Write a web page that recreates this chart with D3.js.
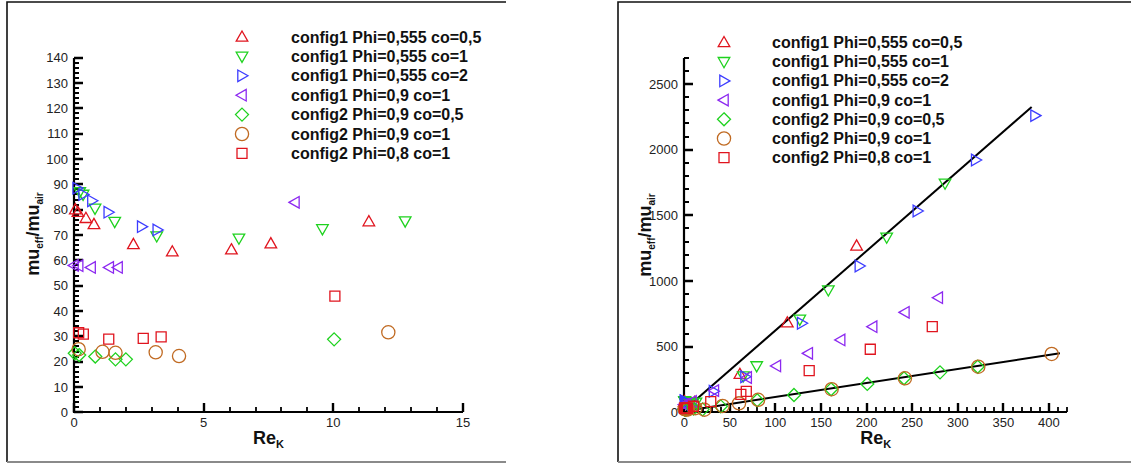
<!DOCTYPE html>
<html><head><meta charset="utf-8">
<script src="https://cdn.jsdelivr.net/npm/d3@7"></script>
<style>
html,body{margin:0;padding:0;background:#fff;}
svg{display:block;font-family:"Liberation Sans",Arial,Helvetica,sans-serif;}
</style></head>
<body>
<svg id="chart" width="1131" height="464"></svg>
<script>
// ---------- data ----------
const seriesNames = [
  "config1 Phi=0,555 co=0,5",
  "config1 Phi=0,555 co=1",
  "config1 Phi=0,555 co=2",
  "config1 Phi=0,9 co=1",
  "config2 Phi=0,9 co=0,5",
  "config2 Phi=0,9 co=1",
  "config2 Phi=0,8 co=1"
];
const seriesSymbols = ["triUp","triDown","triRight","triLeft","diamond","circle","square"];
const seriesColors = ["#e0141e","#1ed21e","#3c3cff","#8c28f0","#1ed21e","#c06a22","#e0141e"];

const s1 = [[0.05,80],[0.15,79],[0.46,76.6],[0.77,74.2],[2.29,66.3],[3.79,63.4],[6.07,64.2],[7.59,66.6],[11.37,75.3],[61,290],[113,682],[189,1267]];
const s2 = [[0.22,87],[0.35,86],[0.81,80.5],[1.57,75.3],[3.19,69.6],[6.36,68.7],[9.58,72.4],[12.77,75.5],[64.7,276],[79.4,353],[126.7,708],[158,931],[222,1333],[286,1744]];
const s3 = [[0.12,88.5],[0.35,86],[0.69,83.5],[1.32,79],[2.61,73.3],[3.21,72],[32,160],[66.6,271],[128.7,678],[192,1114],[255.6,1533],[319.6,1921],[384.7,2259]];
const s4 = [[0,58],[0.18,57.9],[0.66,57.2],[1.36,57.2],[1.7,57.2],[8.52,82.9],[33,165],[69,265],[101,353],[136,449],[171.5,551],[206.6,652],[242,761],[278.6,873]];
const s5 = [[0.03,23.3],[0.2,22.6],[0.82,22],[1.6,20.9],[2.0,20.9],[10.03,28.8],[20,22],[40,45],[80,92],[120.3,132],[161,175],[200.7,216],[241,259],[280.5,304],[321.8,347]];
const s6 = [[0.18,24.9],[1.1,23.9],[1.6,23.5],[3.15,23.7],[4.05,22.2],[12.12,31.6],[22,20],[42,48],[60,68],[81,95],[161.6,176],[242,259],[322.5,347],[403,444]];
const s7 = [[0.18,31.4],[0.36,30.9],[1.34,28.9],[2.67,29.2],[3.36,29.8],[10.06,45.9],[29,81],[62,137],[68,160],[137,317],[204,480],[272,652]];
const allSeries = [s1,s2,s3,s4,s5,s6,s7];

const fitLine1 = [[2,30],[381,2325]];
const fitLine2 = [[2,12],[412,449]];

const leftXTicks = [0,5,10,15];
const leftYTicks = [0,10,20,30,40,50,60,70,80,90,100,110,120,130,140];
const rightXTicks = [0,50,100,150,200,250,300,350,400];
const rightYTicks = [0,500,1000,1500,2000,2500];

// ---------- helpers ----------
const svg = d3.select("#chart");

function symbolPath(type){
  switch(type){
    case "triUp": return "M0,-6L5.8,4.2L-5.8,4.2Z";
    case "triDown": return "M0,6L5.8,-4.2L-5.8,-4.2Z";
    case "triRight": return "M6,0L-4.2,5.8L-4.2,-5.8Z";
    case "triLeft": return "M-6,0L4.2,5.8L4.2,-5.8Z";
    case "diamond": return "M0,-6.5L6.5,0L0,6.5L-6.5,0Z";
    case "square": return "M-5,-5L5,-5L5,5L-5,5Z";
    case "circle": return "M6.6,0A6.6,6.6 0 1,1 -6.6,0A6.6,6.6 0 1,1 6.6,0Z";
  }
}

function drawPanel(cfg){
  const g = svg.append("g");
  // frame
  g.append("path").attr("d",`M${cfg.frame[2]},${cfg.frame[1]}H${cfg.frame[0]}V${cfg.frame[3]}`)
    .attr("fill","none").attr("stroke","#111").attr("stroke-width",1.6);
  g.append("path").attr("d",`M${cfg.frame[0]},${cfg.frame[3]}H${cfg.frame[2]}`)
    .attr("fill","none").attr("stroke","#8a8a8a").attr("stroke-width",2);

  const x = d3.scaleLinear().domain(cfg.xDomain).range(cfg.xRange);
  const y = d3.scaleLinear().domain(cfg.yDomain).range(cfg.yRange);
  const y0 = Math.round(cfg.yRange[0]), x0 = Math.round(cfg.xRange[0]);

  // ticks (inward), positions from the scales
  const xMinor = d3.range(cfg.xDomain[0], cfg.xDomain[1]+1e-9, cfg.xMinorStep);
  const yMinor = d3.range(cfg.yDomain[0], cfg.yDomain[1]+1e-9, cfg.yMinorStep);
  const r = v => Math.round(v);
  const minorD = xMinor.map(v=>`M${r(x(v))},${y0}V${y0-5}`).join("") +
                 yMinor.map(v=>`M${x0},${r(y(v))}H${x0+5}`).join("");
  const majorD = cfg.xTicks.map(v=>`M${r(x(v))},${y0}V${y0-9}`).join("") +
                 cfg.yTicks.map(v=>`M${x0},${r(y(v))}H${x0+9}`).join("");
  g.append("path").attr("class","minor-ticks").attr("d",minorD)
    .attr("fill","none").attr("stroke","#000").attr("stroke-width",1.8);
  g.append("path").attr("class","major-ticks").attr("d",majorD)
    .attr("fill","none").attr("stroke","#000").attr("stroke-width",2.4);
  // axis lines
  g.append("path").attr("d",`M${r(cfg.xRange[1])},${y0}H${x0}V${r(cfg.yRange[1])}`)
    .attr("fill","none").attr("stroke","#000").attr("stroke-width",2.2);

  // tick labels
  const fmt = d3.format("d");
  g.selectAll("text.xl").data(cfg.xTicks).join("text").attr("class","xl")
    .attr("x",d=>x(d)).attr("y",y0+15).attr("text-anchor","middle")
    .style("font-size","13px").attr("fill","#222").text(fmt);
  g.selectAll("text.yl").data(cfg.yTicks).join("text").attr("class","yl")
    .attr("x",x0-6).attr("y",d=>y(d)+4.6).attr("text-anchor","end")
    .style("font-size","13px").attr("fill","#222").text(fmt);

  // fit lines
  (cfg.fits||[]).forEach(f=>{
    g.append("path").attr("d",d3.line().x(d=>x(d[0])).y(d=>y(d[1]))(f))
      .attr("fill","none").attr("stroke","#000").attr("stroke-width",2);
  });

  // points
  allSeries.forEach((s,i)=>{
    const pts = s.filter(d=>d[0]>=cfg.xDomain[0]&&d[0]<=cfg.xDomain[1]&&d[1]>=cfg.yDomain[0]&&d[1]<=cfg.yDomain[1]);
    g.append("g").selectAll("path").data(pts).join("path")
      .attr("d",symbolPath(seriesSymbols[i]))
      .attr("transform",d=>`translate(${x(d[0])},${y(d[1])})`)
      .attr("fill","none").attr("stroke",seriesColors[i]).attr("stroke-width",1.3);
  });

  // legend
  seriesNames.forEach((n,i)=>{
    const ly = cfg.legY + i*cfg.legStep;
    g.append("path").attr("d",symbolPath(seriesSymbols[i]))
      .attr("transform",`translate(${cfg.legSymX},${ly})`)
      .attr("fill","none").attr("stroke",seriesColors[i]).attr("stroke-width",1.3);
    g.append("text").attr("x",cfg.legTextX).attr("y",ly+5.5)
      .style("font-size","16px").style("font-weight","bold").attr("fill","#111").text(n);
  });

  // axis titles
  const xc = (cfg.xRange[0]+cfg.xRange[1])/2;
  const xt = g.append("text").attr("x",xc).attr("y",cfg.xTitleY).attr("text-anchor","middle")
     .style("font-size","18px").style("font-weight","bold").attr("fill","#111");
  xt.append("tspan").text("Re");
  xt.append("tspan").attr("dy",4).style("font-size","11px").text("K");

  const yt = g.append("text").attr("transform",`translate(${cfg.yTitleX},${cfg.yTitleC}) rotate(-90)`)
     .attr("text-anchor","middle").style("font-size","18px").style("font-weight","bold").attr("fill","#111");
  yt.append("tspan").text("mu");
  yt.append("tspan").attr("dy",4).style("font-size","10px").text("eff");
  yt.append("tspan").attr("dy",-4).text("/mu");
  yt.append("tspan").attr("dy",4).style("font-size","10px").text("air");
}

drawPanel({
  frame:[7,2,506,462],
  xDomain:[0,15], xRange:[74,463], xMinorStep:1, xTicks:leftXTicks,
  yDomain:[0,140], yRange:[412.3,57.7], yMinorStep:2, yTicks:leftYTicks,
  legY:37, legStep:19.4, legSymX:242, legTextX:291,
  xTitleY:444, yTitleX:39, yTitleC:234
});
drawPanel({
  frame:[618,2,1131,462],
  xDomain:[0,420], xRange:[684.3,1067.2], xMinorStep:10, xTicks:rightXTicks,
  yDomain:[0,2700], yRange:[412.3,57.7], yMinorStep:100, yTicks:rightYTicks,
  fits:[fitLine1,fitLine2],
  legY:42.5, legStep:19.2, legSymX:724, legTextX:772,
  xTitleY:444, yTitleX:651, yTitleC:235
});
</script>
</body></html>
